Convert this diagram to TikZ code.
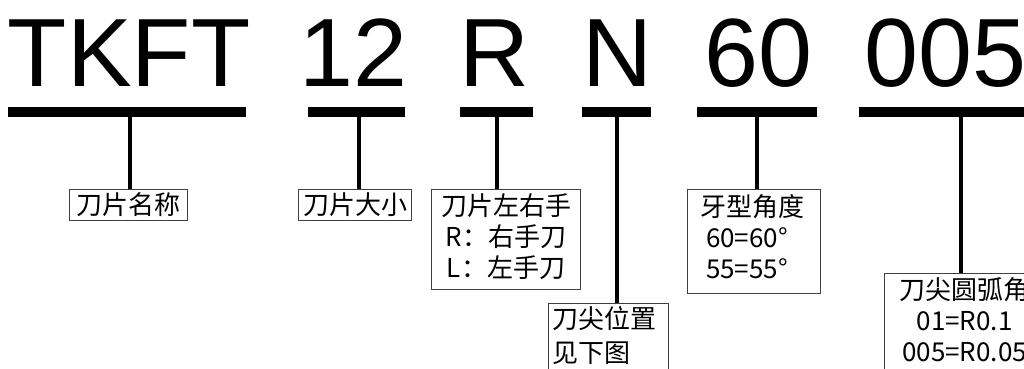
\documentclass[tikz,border=0pt]{standalone}
\usepackage{fontspec}
\newfontfamily\bigsans{Liberation Sans}
\newfontfamily\cjk{Noto Sans CJK SC}
\begin{document}
\begin{tikzpicture}[x=1pt,y=-1pt,
  code/.style={font=\bigsans\fontsize{97}{97}\selectfont, inner sep=0pt, anchor=base west},
  bar/.style={fill=black, inner sep=0pt, minimum height=10pt},
  conn/.style={line width=3.5pt},
  lbl/.style={draw=black!75, line width=1.1pt, inner sep=0pt, anchor=north west,
    font=\cjk\fontsize{26}{31}\selectfont}]
\useasboundingbox (0,0) rectangle (1024,368);
\clip (0,0) rectangle (1024,368);
% code letters
\node[code] (c1) at (7.7,86) {TKFT};
\node[code] (c2) at (299.4,86) {12};
\node[code] (c3) at (459.5,86) {R};
\node[code] (c4) at (582.6,86) {N};
\node[code] (c5) at (704,86) {60};
\node[code] (c6) at (864,86) {005};
% bars
\node[bar, minimum width=238pt] (b1) at (127,112) {};
\node[bar, minimum width=97pt]  (b2) at (356.5,112) {};
\node[bar, minimum width=73pt]  (b3) at (496.5,112) {};
\node[bar, minimum width=69pt]  (b4) at (616.5,112) {};
\node[bar, minimum width=120pt] (b5) at (757,112) {};
\node[bar, minimum width=204pt] (b6) at (961,112) {};
% label boxes
\node[lbl] (t1) at (69,189) {\parbox[c][31pt][t]{118pt}{\centering\rule{0pt}{25pt}刀片名称}};
\node[lbl] (t2) at (298,189) {\parbox[c][31pt][t]{113pt}{\centering\rule{0pt}{25pt}刀片大小}};
\node[lbl] (t3) at (431,189) {\parbox[c][100pt][t]{149pt}{\centering\rule{0pt}{25.5pt}刀片左右手\\R：右手刀\\L：左手刀}};
\node[lbl] (t4) at (548,303) {\parbox[c][90pt][t]{120pt}{\fontsize{26}{33.5}\selectfont\raggedright\rule{0pt}{25pt}\hspace*{3.5pt}刀尖位置\\\hspace*{3.5pt}见下图}};
\node[lbl] (t5) at (687,189) {\parbox[c][104pt][t]{133pt}{\raggedright\rule{0pt}{26.5pt}\hspace*{13pt}牙型角度\\\hspace*{18.5pt}60=60°\\\hspace*{18.5pt}55=55°}};
\node[lbl] (t6) at (884,273) {\parbox[c][110pt][t]{160pt}{\centering\rule{0pt}{26pt}刀尖圆弧角\\01=R0.1\\005=R0.05}};
% connectors
\draw[conn] ([xshift=3pt]b1.south) -- ([xshift=3pt]b1.south |- t1.north);
\draw[conn] ([xshift=2.5pt]b2.south) -- ([xshift=2.5pt]b2.south |- t2.north);
\draw[conn] ([xshift=0.5pt]b3.south) -- ([xshift=0.5pt]b3.south |- t3.north);
\draw[conn] ([xshift=0.5pt]b4.south) -- ([xshift=0.5pt]b4.south |- t4.north);
\draw[conn] (b5.south) -- (b5.south |- t5.north);
\draw[conn] (b6.south) -- (b6.south |- t6.north);
\end{tikzpicture}
\end{document}
